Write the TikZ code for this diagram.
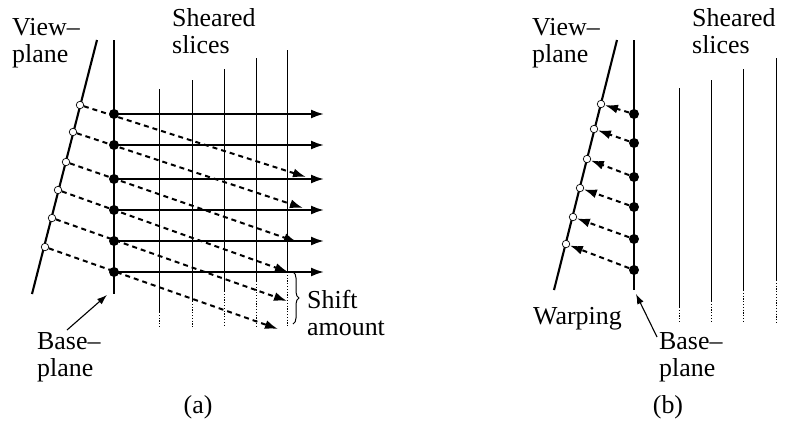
\documentclass[tikz,border=0pt]{standalone}
\usepackage{fontspec}
\setmainfont{Liberation Serif}
\usetikzlibrary{arrows.meta,calc,decorations.pathreplacing}

\begin{document}
\begin{tikzpicture}[x=1bp,y=-1bp,
  plane/.style={line width=2.1bp},
  slice/.style={line width=1bp},
  ghost/.style={line width=0.8bp,dash pattern=on 1.2bp off 1.6bp},
  ray/.style={line width=2bp,-{Latex[length=13bp,width=9bp]}},
  sray/.style={ray,dash pattern=on 5bp off 4bp},
  sample/.style={circle,fill=black,inner sep=0pt,minimum size=10bp},
  pixel/.style={circle,draw=black,fill=white,line width=0.7bp,inner sep=0pt,minimum size=7.5bp},
  pointer/.style={line width=1.1bp,-{Latex[length=10bp,width=7bp]}},
  lab/.style={font=\fontsize{26}{27}\selectfont,align=left,inner sep=0pt,anchor=base west}
]
\useasboundingbox (0,0) rectangle (798,422);

%% ---------------- (a) shear ----------------
%% view plane and base plane
\coordinate (vtopA) at (97,40);
\coordinate (vbotA) at (32,294);
\coordinate (btopA) at (114,40);
\coordinate (bbotA) at (114,294);
\draw[plane] (vtopA) -- (vbotA);
\draw[plane] (btopA) -- (bbotA);
%% sheared slices (solid part, then dotted remainder)
\foreach \x/\top/\bot in {159/89/312, 192/80/301, 224/69/291, 256/58/281, 287/50/272}{
  \draw[slice] (\x,\top) -- (\x,\bot);
  \draw[ghost] (\x,\bot) -- (\x,327);
}
%% samples, pixels and ray ends
\foreach \i/\px/\py/\sy/\dx/\dy in {1/80/105/114/306/177, 2/73/132/145/303/208, 3/66/162/179/297/242,
                                    4/58/190/210/288/272, 5/52/218/241/287/301, 6/45/247/272/278/329}{
  \node[pixel]  (pa\i) at (\px,\py) {};
  \coordinate (da\i) at (\dx,\dy);
  \coordinate (ea\i) at (324,\sy);
  \draw[sray] (pa\i) -- (da\i);
  \draw[ray] (114,\sy) -- (ea\i);
  \node[sample] (sa\i) at (114,\sy) {};
}
%% shift brace
\draw[line width=1bp,decorate,decoration={brace,amplitude=6bp}] (293,272) -- (293,324);
%% labels
\node[lab] (viewA)  at (12,62)  {View--\\plane};
\node[lab] (shearA) at (172,53) {Sheared\\slices};
\node[lab] (baseA)  at (37,376) {Base--\\plane};
\node[lab] (shiftA) at (307,335) {Shift\\amount};
\node[lab,anchor=base] (capA) at (198,413) {(a)};
\draw[pointer] (67,330) -- ($(bbotA)+(-7,1)$);

%% ---------------- (b) warp ----------------
\coordinate (vtopB) at (617,40);
\coordinate (vbotB) at (554,290);
\coordinate (btopB) at (634,40);
\coordinate (bbotB) at (634,290);
\draw[plane] (vtopB) -- (vbotB);
\draw[plane] (btopB) -- (bbotB);
\foreach \x/\top/\bot in {679/88/307, 711/80/301, 743/69/290, 776/58/280}{
  \draw[slice] (\x,\top) -- (\x,\bot);
  \draw[ghost] (\x,\bot) -- (\x,323);
}
\foreach \i/\px/\py/\sy in {1/601/104/114, 2/594/129/143, 3/587/159/177,
                            4/580/188/207, 5/573/217/239, 6/566/244/270}{
  \node[pixel]  (pb\i) at (\px,\py) {};
  \node[sample] (sb\i) at (634,\sy) {};
  \draw[sray] (sb\i) -- (pb\i);
}
\node[lab] (viewB)  at (532,62)  {View--\\plane};
\node[lab] (shearB) at (692,53)  {Sheared\\slices};
\node[lab] (warpB)  at (533,324) {Warping};
\node[lab] (baseB)  at (659,376) {Base--\\plane};
\node[lab,anchor=base] (capB) at (668,413) {(b)};
\draw[pointer] (657,337) -- ($(bbotB)+(2,4)$);
\end{tikzpicture}
\end{document}
